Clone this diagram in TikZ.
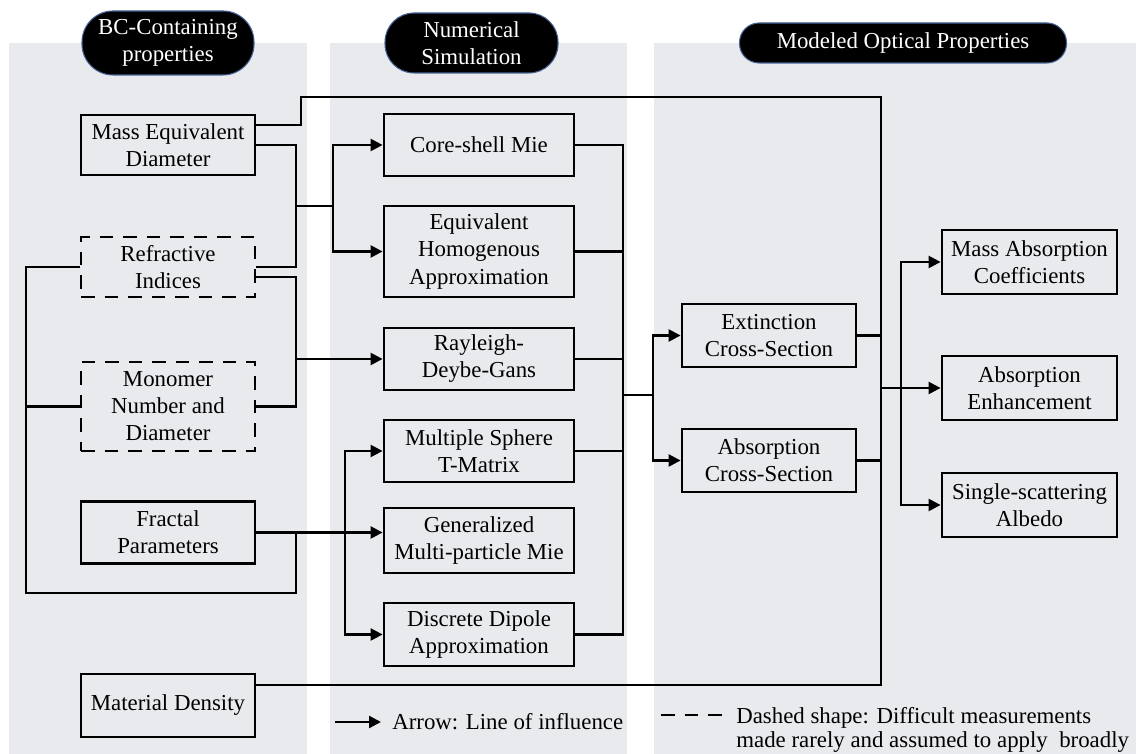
\documentclass[tikz,border=0pt]{standalone}
\usepackage{fontspec}
\setmainfont{Liberation Serif}
\usepackage{tikz}
\usetikzlibrary{arrows.meta,calc,positioning}
\definecolor{panelgray}{RGB}{233,234,237}
\definecolor{headerrim}{RGB}{70,100,150}
\tikzset{
  quantity/.style={
    draw=black,
    line width=1.6pt,
    fill=panelgray,
    align=center,
    minimum width=3.48cm,
    minimum height=1.24cm,
    inner xsep=2pt,
    inner ysep=2pt
  },
  uncertain/.style={quantity, dash pattern=on 0.27cm off 0.2cm},
  method/.style={quantity, minimum width=3.8cm},
  header/.style={
    fill=black,
    draw=headerrim,
    line width=0.6pt,
    text=white,
    align=center,
    inner sep=2pt,
    rounded corners=#1
  },
  link/.style={black, line width=1.35pt},
  influence/.style={
    link,
    -{Triangle[length=2.4mm,width=2.4mm]}
  }
}

\begin{document}
\begin{tikzpicture}[font=\fontsize{13}{15.4}\selectfont]

  \useasboundingbox (0,0) rectangle (22.72,15.08);

  % Three column panels.
  \fill[panelgray] (0.18,0) rectangle (6.14,14.22);
  \fill[panelgray] (6.60,0) rectangle (12.54,14.22);
  \fill[panelgray] (13.08,0) rectangle (22.72,14.22);

  % Column headers.
  \node[header=6.2mm, minimum width=3.44cm, minimum height=1.28cm]
    (hprop) at (3.36,14.22) {BC-Containing\\properties};
  \node[header=5.8mm, minimum width=3.46cm, minimum height=1.2cm]
    (hsim) at (9.43,14.22) {Numerical\\Simulation};
  \node[header=3.9mm, minimum width=6.54cm, minimum height=0.8cm]
    (hopt) at (18.06,14.22) {Modeled Optical Properties};

  % BC-containing properties.
  \node[quantity, minimum height=1.2cm] (med) at (3.36,12.18) {Mass Equivalent\\Diameter};
  \node[uncertain, minimum height=1.2cm] (refr) at (3.36,9.74) {Refractive\\Indices};
  \node[uncertain, minimum height=1.78cm] (mono) at (3.36,6.95) {Monomer\\Number and\\Diameter};
  \node[quantity] (fract) at (3.36,4.43) {Fractal\\Parameters};
  \node[quantity, minimum height=1.26cm] (dens) at (3.36,0.97) {Material Density};

  % Numerical simulation methods.
  \node[method] (coreshell) at (9.58,12.18) {Core-shell Mie};
  \node[method, minimum height=1.82cm] (eha) at (9.58,10.05) {Equivalent\\Homogenous\\Approximation};
  \node[method] (rdg) at (9.58,7.90) {Rayleigh-\\Deybe-Gans};
  \node[method] (mstm) at (9.58,6.06) {Multiple Sphere\\T-Matrix};
  \node[method, minimum height=1.3cm] (gmm) at (9.58,4.27) {Generalized\\Multi-particle Mie};
  \node[method, minimum height=1.26cm] (dda) at (9.58,2.39) {Discrete Dipole\\Approximation};

  % Modeled optical properties.
  \node[quantity, minimum height=1.26cm] (ext) at (15.38,8.37) {Extinction\\Cross-Section};
  \node[quantity, minimum height=1.26cm] (abs) at (15.38,5.87) {Absorption\\Cross-Section};
  \node[quantity, minimum width=3.5cm, minimum height=1.28cm] (mac) at (20.59,9.84) {Mass Absorption\\Coefficients};
  \node[quantity, minimum width=3.5cm, minimum height=1.28cm] (enh) at (20.59,7.32) {Absorption\\Enhancement};
  \node[quantity, minimum width=3.5cm, minimum height=1.28cm] (ssa) at (20.59,4.98) {Single-scattering\\Albedo};

  % Junctions of the connector network.
  \coordinate (topL) at (6.02,13.14);
  \coordinate (topR) at (17.62,13.14);
  \coordinate (jA) at (5.92,10.96);
  \coordinate (splitA) at (6.66,10.96);
  \coordinate (jB) at (5.92,7.90);
  \coordinate (loopL) at (0.52,3.22);
  \coordinate (loopR) at (5.92,3.22);
  \coordinate (splitC) at (6.90,4.43);
  \coordinate (collM) at (12.46,7.18);
  \coordinate (splitD) at (13.06,7.18);
  \coordinate (collR) at (17.62,7.32);
  \coordinate (splitE) at (18.02,7.32);

  % Diameter and density feed the optical properties directly.
  \draw[link] ([yshift=4mm]med.east) -| (topL) -- (topR)
    |- ([yshift=4.1mm]dens.east);

  % Diameter and refractive indices into the Mie-type methods.
  \draw[link] (med.east) -| (jA) |- (refr.east);
  \draw[link] (jA) -- (splitA);
  \draw[influence] (splitA) |- (coreshell.west);
  \draw[influence] (splitA) |- (eha.west);

  % Refractive indices and monomers into RDG.
  \draw[link] ([yshift=-2mm]refr.east) -| (jB) |- (mono.east);
  \draw[influence] (jB) -- (rdg.west);

  % Loop around the aggregate properties.
  \draw[link] (refr.west) -| (loopL) -- (loopR) |- (fract.east);
  \draw[link] (mono.west) -- (mono.west -| loopL);

  % Aggregate properties into the cluster methods.
  \draw[influence] (fract.east) -- (fract.east -| gmm.west);
  \draw[influence] (splitC) |- (mstm.west);
  \draw[influence] (splitC) |- (dda.west);

  % Methods to cross-sections.
  \foreach \m in {coreshell,eha,rdg,mstm,dda}
    \draw[link] (\m.east) -| (collM);
  \draw[link] (collM) -- (splitD);
  \draw[influence] (splitD) |- (ext.west);
  \draw[influence] (splitD) |- (abs.west);

  % Cross-sections to the derived properties.
  \draw[link] (ext.east) -- (ext.east -| topR);
  \draw[link] (abs.east) -- (abs.east -| topR);
  \draw[influence] (collR) -- (enh.west);
  \draw[influence] (splitE) |- (mac.west);
  \draw[influence] (splitE) |- (ssa.west);

  % Legend.
  \node[anchor=west, inner sep=0pt] (keyarrow) at (7.84,0.64) {Arrow: Line of influence};
  \draw[influence] ([xshift=-11.4mm]keyarrow.west) -- ([xshift=-2.2mm]keyarrow.west);
  \node[anchor=west, inner sep=0pt, align=left, font=\fontsize{13}{13.4}\selectfont]
    (keydash) at (14.72,0.48)
    {Dashed shape: Difficult measurements\\made rarely and assumed to apply~~broadly};
  \draw[link, dash pattern=on 0.27cm off 0.2cm] (13.22,0.78) -- (14.58,0.78);

\end{tikzpicture}
\end{document}
